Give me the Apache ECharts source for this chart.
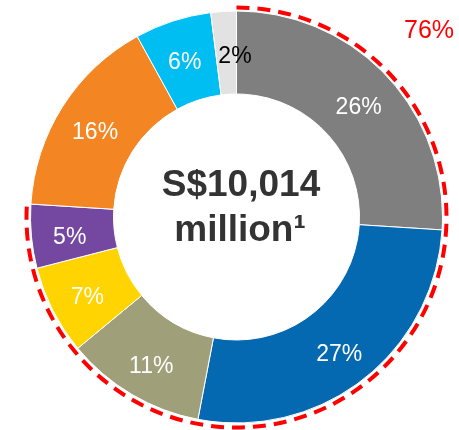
<!DOCTYPE html>
<html>
<head>
<meta charset="utf-8">
<script src="https://cdn.jsdelivr.net/npm/echarts@6/dist/echarts.min.js"></script>
<style>
  html, body { margin: 0; padding: 0; background: #fff; }
  #chart { width: 459px; height: 430px; }
</style>
</head>
<body>
<div id="chart"></div>
<script>
// slices, clockwise from 12 o'clock
const segments = ['Seg A', 'Seg B', 'Seg C', 'Seg D', 'Seg E', 'Seg F', 'Seg G', 'Seg H']
const shares = [26, 27, 11, 7, 5, 16, 6, 2]
const sliceColors = ['#7f7f7f', '#0569b2', '#9f9f7a', '#ffd400', '#7448a0', '#f38622', '#00bef2', '#e2e2e2']
const labelColors = ['#fff', '#fff', '#fff', '#fff', '#fff', '#fff', '#fff', '#000']
const highlighted = 5 // first five slices sit inside the red dashed arc
const totalText = 'S$10,014'
const unitText = 'million¹'

const highlightShare = shares.slice(0, highlighted).reduce((a, b) => a + b, 0)
const total = shares.reduce((a, b) => a + b, 0)

const cx = 236.5
const cy = 217
const startRad = -Math.PI / 2
const endRad = startRad + (highlightShare / total) * Math.PI * 2

const chart = echarts.init(document.getElementById('chart'))
chart.setOption({
  animation: false,
  series: [
    {
      type: 'pie',
      center: [cx, cy],
      radius: [123, 206],
      startAngle: 90,
      clockwise: true,
      avoidLabelOverlap: false,
      itemStyle: { borderColor: '#fff', borderWidth: 1 },
      label: {
        show: true,
        position: 'inside',
        formatter: '{c}%',
        fontFamily: 'Liberation Sans, Arial, sans-serif',
        fontSize: 23,
        offset: [0, 5]
      },
      labelLine: { show: false },
      emphasis: { disabled: true },
      data: shares.map((v, i) => ({
        name: segments[i],
        value: v,
        itemStyle: { color: sliceColors[i] },
        // the tiny last slice has its label nudged toward 12 o'clock
        label: { color: labelColors[i], offset: i === shares.length - 1 ? [9, 7] : [0, 5] }
      }))
    }
  ],
  graphic: [
    {
      type: 'arc',
      silent: true,
      shape: { cx: cx, cy: cy + 0.5, r: 210, startAngle: startRad, endAngle: endRad, clockwise: true },
      style: { fill: 'none', stroke: '#ff0000', lineWidth: 4, lineDash: [13, 8] }
    },
    {
      type: 'text',
      x: 429,
      y: 31,
      style: {
        text: highlightShare + '%',
        fill: '#ff0000',
        font: '25px "Liberation Sans", Arial, sans-serif',
        textAlign: 'center',
        textVerticalAlign: 'middle'
      }
    },
    {
      type: 'text',
      x: 241,
      y: 186,
      style: {
        text: totalText,
        fill: '#333333',
        font: 'bold 37px "Liberation Sans", Arial, sans-serif',
        textAlign: 'center',
        textVerticalAlign: 'middle'
      }
    },
    {
      type: 'text',
      x: 240,
      y: 231,
      style: {
        text: unitText,
        fill: '#333333',
        font: 'bold 37px "Liberation Sans", Arial, sans-serif',
        textAlign: 'center',
        textVerticalAlign: 'middle'
      }
    }
  ]
})
</script>
</body>
</html>
